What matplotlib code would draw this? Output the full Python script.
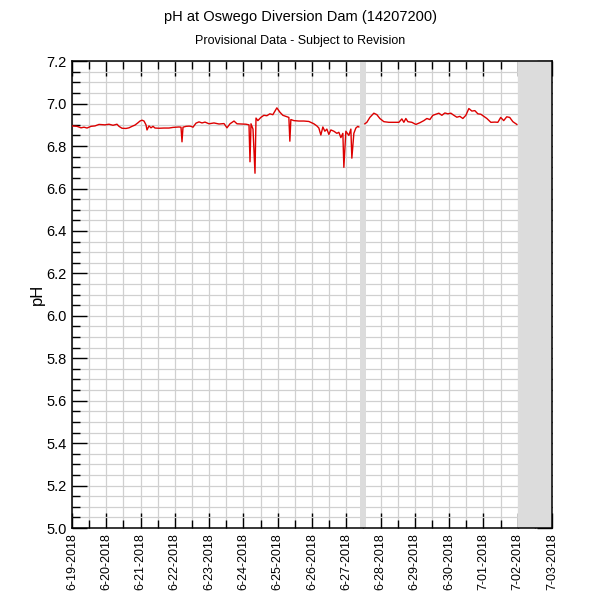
import matplotlib
matplotlib.use("Agg")
import matplotlib.pyplot as plt
import matplotlib.dates as mdates
from matplotlib.ticker import MultipleLocator
import numpy as np
from datetime import datetime, timedelta

plt.rcParams['font.family'] = ['Liberation Sans', 'DejaVu Sans']

start = datetime(2018, 6, 19)

# hours since 2018-06-19 00:00 and pH readings (None = gap)
hours = [0, 3.5, 6.3, 8.4, 10.5, 13.3, 16.1, 18.9, 23.1, 25.9, 28.7, 31.5, 32.9, 35, 37.8,
         39.9, 42, 44.1, 46.2, 47.6, 49, 50.4, 51.8, 52.5, 53.9, 55.3, 56.7, 58.1, 60.9,
         64.4, 67.9, 70.7, 74.9, 76.3, 77, 77.7, 79.8, 81.9, 83.3, 84.7, 86.8, 88.9, 91,
         93.1, 95.9, 99.4, 102.9, 106.4, 108.5, 110.6, 113.4, 115.5, 118.3, 121.8, 123.9,
         124.6, 125.3, 126.7, 128.1, 128.8, 130.1, 132.2, 134.3, 136.4, 138.5, 140.6,
         143.4, 145.5, 147.6, 149.7, 151.8, 152.5, 153.2, 155.3, 158.8, 162.3, 165.8,
         169.3, 171.4, 172.8, 174.2, 175.6, 177, 178.4, 179.8, 181.2, 183.3, 185.4, 186.8,
         188.2, 189.6, 190.3, 191.7, 193.8, 195.2, 195.9, 197.3, 198.7, 200.1, 200.8,
         202.9,
         205, 206.4, 208.5, 211.3, 213.4, 215.5, 218.3, 221.8, 225.3, 228.8, 230.9, 232.3,
         233.7, 235.1, 237.9, 240.7, 243.5, 246.3, 248.4, 250.5, 252.6, 254.7, 256.8,
         258.9, 261, 263.1, 265.2, 267.3, 269.4, 271.5, 273.6, 275.7, 277.8, 279.9, 282,
         284.1, 286.2, 288.3, 290.4, 293.2, 296, 298.1, 300.1, 302.2, 304.3, 306.4, 308.6,
         311.4]
ph = [6.895, 6.893, 6.886, 6.889, 6.885, 6.893, 6.895, 6.902, 6.900, 6.903, 6.898, 6.903,
      6.893, 6.884, 6.883, 6.886, 6.893, 6.899, 6.910, 6.918, 6.922, 6.918, 6.900, 6.876,
      6.895, 6.886, 6.893, 6.885, 6.884, 6.885, 6.885, 6.888, 6.890, 6.889, 6.820, 6.889,
      6.893, 6.894, 6.893, 6.889, 6.908, 6.914, 6.909, 6.913, 6.905, 6.909, 6.904, 6.906,
      6.886, 6.905, 6.918, 6.905, 6.904, 6.903, 6.900, 6.726, 6.905, 6.880, 6.672, 6.932,
      6.920, 6.935, 6.945, 6.943, 6.952, 6.948, 6.980, 6.960, 6.945, 6.940, 6.935, 6.823,
      6.925, 6.920, 6.918, 6.918, 6.916, 6.905, 6.895, 6.885, 6.852, 6.890, 6.870, 6.880,
      6.855, 6.876, 6.870, 6.860, 6.865, 6.840, 6.860, 6.700, 6.870, 6.850, 6.880, 6.743,
      6.860, 6.885, 6.893, 6.890,
      None,
      6.905, 6.912, 6.935, 6.955, 6.948, 6.930, 6.915, 6.912, 6.912, 6.912, 6.928, 6.912,
      6.930, 6.915, 6.912, 6.902, 6.910, 6.920, 6.930, 6.925, 6.945, 6.950, 6.955, 6.945,
      6.956, 6.952, 6.955, 6.945, 6.936, 6.940, 6.930, 6.945, 6.977, 6.965, 6.967, 6.952,
      6.950, 6.940, 6.930, 6.912, 6.913, 6.912, 6.935, 6.920, 6.938, 6.935, 6.915, 6.902]

# shaded periods (hours since start)
gap_band = (201.5, 205.5)
future_band = (312.0, 336.0)

tick_labels = ["6-19-2018", "6-20-2018", "6-21-2018", "6-22-2018", "6-23-2018",
               "6-24-2018", "6-25-2018", "6-26-2018", "6-27-2018", "6-28-2018",
               "6-29-2018", "6-30-2018", "7-01-2018", "7-02-2018", "7-03-2018"]

times = [start + timedelta(hours=h) for h in hours]
vals = [np.nan if v is None else v for v in ph]

fig = plt.figure(figsize=(6, 6), dpi=100)
ax = fig.add_axes([0.12, 0.12, 0.80, 0.778])

for b in (gap_band, future_band):
    ax.axvspan(start + timedelta(hours=b[0]), start + timedelta(hours=b[1]),
               color='#dcdcdc', lw=0, zorder=1)

ax.plot(times, vals, color='#dd0000', lw=1.0, zorder=3)

tick_dates = [start + timedelta(days=i) for i in range(len(tick_labels))]
ax.set_xlim(tick_dates[0], tick_dates[-1])
ax.set_ylim(5.0, 7.2)
ax.set_xticks(tick_dates)
ax.set_xticklabels(tick_labels, rotation=90, fontsize=9)
ax.xaxis.set_minor_locator(mdates.HourLocator(byhour=[12]))
ax.yaxis.set_major_locator(MultipleLocator(0.2))
ax.yaxis.set_minor_locator(MultipleLocator(0.05))
ax.set_yticklabels([f"{v:.1f}" for v in ax.get_yticks()], fontsize=10.5)

ax.grid(True, which='both', color='#d0d0d0', lw=0.9, zorder=0)
ax.set_axisbelow(True)
ax.tick_params(which='both', direction='in', top=True, right=True, color='black')
ax.tick_params(which='major', length=11, width=1, pad=4)
ax.tick_params(which='minor', length=6, width=1)
for s in ax.spines.values():
    s.set_linewidth(1.1)

ax.set_ylabel("pH", fontsize=12, labelpad=1)
fig.text(0.5, 0.972, "pH at Oswego Diversion Dam (14207200)", ha='center', va='center', fontsize=10.5)
fig.text(0.5, 0.932, "Provisional Data - Subject to Revision", ha='center', va='center', fontsize=9)

fig.savefig("out.png", dpi=100)
